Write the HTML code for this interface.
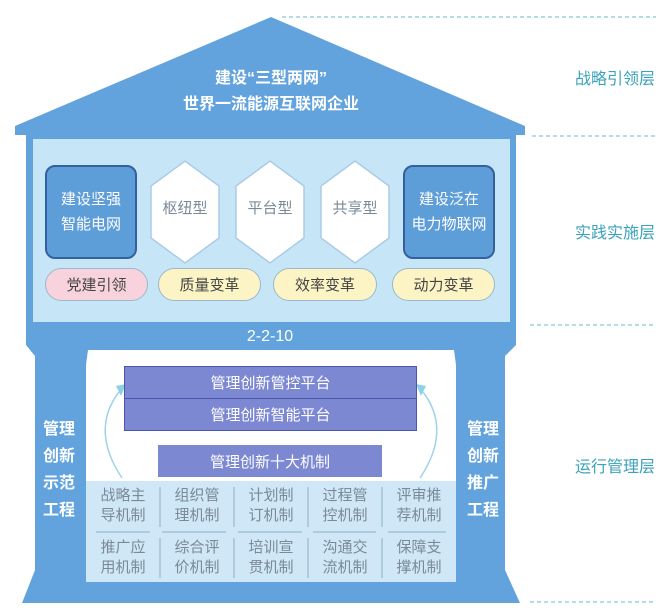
<!DOCTYPE html>
<html><head><meta charset="utf-8"><style>
body{margin:0;width:672px;height:613px;background:#fff;overflow:hidden;position:relative;font-family:"Liberation Sans","Noto Sans CJK SC",sans-serif}
.a{position:absolute;box-sizing:border-box}
.c{display:flex;align-items:center;justify-content:center;text-align:center}
.lbl{color:#3aa3bb;font-size:16px}
.g{color:#7a8a98;font-size:15px;line-height:20px}
</style></head><body>
<svg class="a" style="left:0;top:0" width="672" height="613">
<g stroke="#6ab8c8" stroke-dasharray="4,3" stroke-width="1">
<line x1="282" y1="17" x2="656" y2="17"/><line x1="532" y1="136" x2="656" y2="136"/>
<line x1="530" y1="325" x2="656" y2="325"/><line x1="530" y1="602" x2="656" y2="602"/></g>
<polygon points="271,17 525,126 525,135 15,135 15,126" fill="#62a3de"/>
<rect x="26" y="134" width="490" height="191" fill="#62a3de"/>
<rect x="33" y="139" width="477" height="183" fill="#c6e6f8"/>
<polygon points="26,324 516,324 516,345 505,356 505,570 520,603 22,603 35,570 35,356 26,345" fill="#62a3de"/>
<polygon points="88,350 454,350 456,365 456,582 86,582 86,365" fill="#fff"/>
<rect x="86" y="481" width="370" height="101" fill="#cfe7f6"/>
<g stroke="#8fb0c8" stroke-width="1">
<line x1="160" y1="487" x2="160" y2="527"/><line x1="234" y1="487" x2="234" y2="527"/><line x1="308" y1="487" x2="308" y2="527"/><line x1="382" y1="487" x2="382" y2="527"/>
<line x1="160" y1="538" x2="160" y2="578"/><line x1="234" y1="538" x2="234" y2="578"/><line x1="308" y1="538" x2="308" y2="578"/><line x1="382" y1="538" x2="382" y2="578"/>
<line x1="96" y1="532" x2="150" y2="532"/><line x1="162" y1="532" x2="226" y2="532"/><line x1="238" y1="532" x2="302" y2="532"/><line x1="313" y1="532" x2="376" y2="532"/><line x1="388" y1="532" x2="446" y2="532"/></g>
<g fill="none" stroke="#9fd3e8" stroke-width="1.5">
<path d="M122,478 Q90,430 119,392"/><path d="M420,478 Q452,430 423,392"/></g>
<polygon points="116,386 126,384 121,396" fill="#8fd0e6"/><polygon points="426,386 416,384 421,396" fill="#8fd0e6"/>
<g fill="#fff" stroke="#a9cbe6" stroke-width="1.5">
<polygon points="185,161 219,186 219,238 185,263 151,238 151,186"/>
<polygon points="270,161 304,186 304,238 270,263 236,238 236,186"/>
<polygon points="355,161 389,186 389,238 355,263 321,238 321,186"/></g>
</svg>
<div class="a c" style="left:150px;top:66px;width:242px;color:#fff;font-size:16px;line-height:26px;font-weight:bold">建设“三型两网”<br>世界一流能源互联网企业</div>
<div class="a c" style="left:45px;top:165px;width:92px;height:94px;background:#5d9dd8;border:2px solid #3560a0;border-radius:10px;color:#fff;font-size:15px;line-height:25px">建设坚强<br>智能电网</div>
<div class="a c" style="left:403px;top:165px;width:92px;height:94px;background:#5d9dd8;border:2px solid #3560a0;border-radius:10px;color:#fff;font-size:15px;line-height:25px">建设泛在<br>电力物联网</div>
<div class="a c" style="left:151px;top:197px;width:68px;color:#7a8a98;font-size:15px">枢纽型</div>
<div class="a c" style="left:236px;top:197px;width:68px;color:#7a8a98;font-size:15px">平台型</div>
<div class="a c" style="left:321px;top:197px;width:68px;color:#7a8a98;font-size:15px">共享型</div>
<div class="a c" style="left:45px;top:268px;width:103px;height:33px;background:#f8d2dc;border:1.5px solid #9cb8cc;border-radius:17px;color:#444;font-size:15px">党建引领</div>
<div class="a c" style="left:158px;top:268px;width:103px;height:33px;background:#fdf4c6;border:1.5px solid #9cb8cc;border-radius:17px;color:#444;font-size:15px">质量变革</div>
<div class="a c" style="left:273px;top:268px;width:104px;height:33px;background:#fdf4c6;border:1.5px solid #9cb8cc;border-radius:17px;color:#444;font-size:15px">效率变革</div>
<div class="a c" style="left:392px;top:268px;width:103px;height:33px;background:#fdf4c6;border:1.5px solid #9cb8cc;border-radius:17px;color:#444;font-size:15px">动力变革</div>
<div class="a c" style="left:220px;top:326px;width:100px;height:22px;color:#fff;font-size:16px">2-2-10</div>
<div class="a c" style="left:124px;top:366px;width:293px;height:33px;background:#7d88d2;border:1.5px solid #4b56aa;color:#fff;font-size:15px">管理创新管控平台</div>
<div class="a c" style="left:124px;top:398px;width:293px;height:33px;background:#7d88d2;border:1.5px solid #4b56aa;color:#fff;font-size:15px">管理创新智能平台</div>
<div class="a c" style="left:158px;top:445px;width:224px;height:32px;background:#7d88d2;color:#fff;font-size:15px">管理创新十大机制</div>
<div class="a" style="left:40px;top:416px;width:38px;color:#fff;font-size:16px;line-height:27px;text-align:center;font-weight:bold">管理<br>创新<br>示范<br>工程</div>
<div class="a" style="left:464px;top:416px;width:38px;color:#fff;font-size:16px;line-height:27px;text-align:center;font-weight:bold">管理<br>创新<br>推广<br>工程</div>
<div class="a c g" style="left:86px;top:486px;width:74px">战略主<br>导机制</div>
<div class="a c g" style="left:160px;top:486px;width:74px">组织管<br>理机制</div>
<div class="a c g" style="left:234px;top:486px;width:74px">计划制<br>订机制</div>
<div class="a c g" style="left:308px;top:486px;width:74px">过程管<br>控机制</div>
<div class="a c g" style="left:382px;top:486px;width:74px">评审推<br>荐机制</div>
<div class="a c g" style="left:86px;top:538px;width:74px">推广应<br>用机制</div>
<div class="a c g" style="left:160px;top:538px;width:74px">综合评<br>价机制</div>
<div class="a c g" style="left:234px;top:538px;width:74px">培训宣<br>贯机制</div>
<div class="a c g" style="left:308px;top:538px;width:74px">沟通交<br>流机制</div>
<div class="a c g" style="left:382px;top:538px;width:74px">保障支<br>撑机制</div>
<div class="a lbl" style="left:575px;top:65px">战略引领层</div>
<div class="a lbl" style="left:575px;top:219px">实践实施层</div>
<div class="a lbl" style="left:575px;top:453px">运行管理层</div>
</body></html>
